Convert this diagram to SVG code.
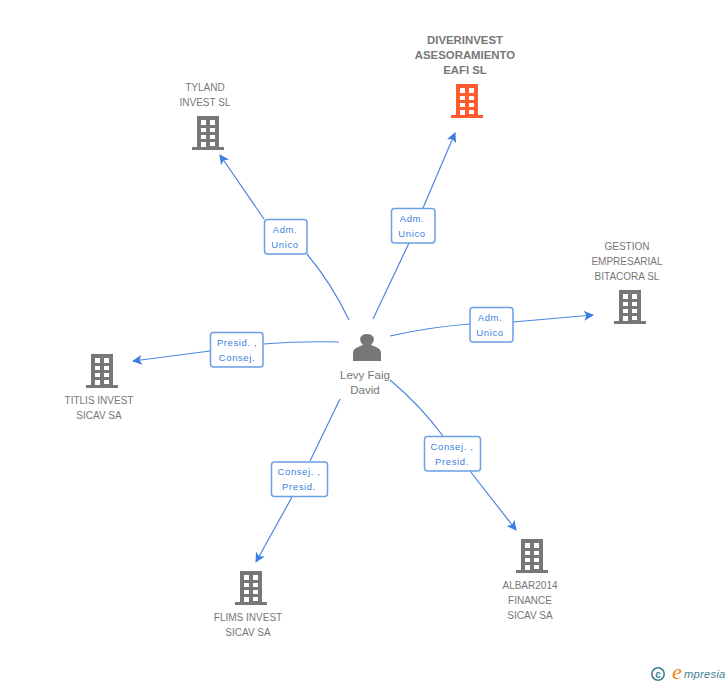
<svg xmlns="http://www.w3.org/2000/svg" width="728" height="685" viewBox="0 0 728 685">
<style>
text{font-family:"Liberation Sans",Arial,sans-serif}
.n{font-size:10px;fill:#777;text-anchor:middle}
.n.b{font-weight:bold;font-size:11.400px;fill:#777}
.c{fill:none;stroke:#4a86e0;stroke-width:1.2}
.box{fill:#fff;stroke:#6b9fe6;stroke-width:1.5}
.l{font-size:9.500px;fill:#3b7fe0;text-anchor:middle;letter-spacing:.6px}
</style>
<defs>
<marker id="a" markerWidth="11" markerHeight="10" refX="9" refY="5" orient="auto" markerUnits="userSpaceOnUse"><path d="M0 0L10 5L0 10L2.500 5Z" fill="#3b7fe0"/></marker>
<symbol id="bld" width="32" height="34" viewBox="0 0 32 34">
<path fill-rule="evenodd" d="M5 0H27V31H32V34H0V31H5ZM9 4V9H14V4ZM18 4V9H23V4ZM9 12V16H14V12ZM18 12V16H23V12ZM9 19V23H14V19ZM18 19V23H23V19ZM9 26V31H14V26ZM18 26V30H23V26Z"/>
</symbol>
</defs>
<g id="connectors">
<path class="c" d="M349 320Q332 284 307 254"/>
<path class="c" marker-end="url(#a)" d="M264 219L220 155"/>
<path class="c" d="M373 319L409 243"/>
<path class="c" marker-end="url(#a)" d="M423 208L455 133"/>
<path class="c" d="M390 336Q430 327 470 324"/>
<path class="c" marker-end="url(#a)" d="M513 322L593 315"/>
<path class="c" d="M339 342Q300 341 263 344"/>
<path class="c" marker-end="url(#a)" d="M210 351L133 361"/>
<path class="c" d="M340 399L310 461"/>
<path class="c" marker-end="url(#a)" d="M292 497L256 562"/>
<path class="c" d="M390 380Q420 405 443 436"/>
<path class="c" marker-end="url(#a)" d="M470 471L516 530"/>
</g>
<g id="labels">
<rect class="box" x="264.500" y="219.500" width="42.500" height="34.500" rx="3"/><text class="l" x="285" y="233">Adm.</text><text class="l" x="285" y="248">Unico</text>
<rect class="box" x="391.500" y="208.500" width="43.500" height="34.500" rx="3"/><text class="l" x="412" y="222">Adm.</text><text class="l" x="412" y="237">Unico</text>
<rect class="box" x="470" y="307.500" width="43" height="34.500" rx="3"/><text class="l" x="490" y="321">Adm.</text><text class="l" x="490" y="336">Unico</text>
<rect class="box" x="210.500" y="332.500" width="52.500" height="34.500" rx="3"/><text class="l" x="237" y="346">Presid. ,</text><text class="l" x="237" y="361">Consej.</text>
<rect class="box" x="424.500" y="436.500" width="56" height="34.500" rx="3"/><text class="l" x="452" y="450">Consej. ,</text><text class="l" x="452" y="465">Presid.</text>
<rect class="box" x="271.500" y="462" width="56" height="34.500" rx="3"/><text class="l" x="299" y="475">Consej. ,</text><text class="l" x="299" y="490">Presid.</text>
</g>
<g id="center">
<path fill="#777" d="M353 361V353Q353 349 358 347L363 345Q360 342 360 339Q361 334 367 334Q373 334 374 339Q374 342 371 345L376 347Q381 349 381 353V361Z"/>
<text class="n" x="365" y="379" style="font-size:11.500px">Levy Faig</text><text class="n" x="365" y="394" style="font-size:11.500px">David</text>
</g>
<g id="diverinvest">
<text class="n b" x="465" y="44">DIVERINVEST</text><text class="n b" x="465" y="59">ASESORAMIENTO</text><text class="n b" x="465" y="74">EAFI SL</text>
<use href="#bld" x="451" y="84" fill="#ff5a30"/>
</g>
<g id="tyland">
<text class="n" x="205" y="91">TYLAND</text><text class="n" x="205" y="106">INVEST SL</text>
<use href="#bld" x="192" y="116" fill="#777"/>
</g>
<g id="gestion">
<text class="n" x="627" y="250">GESTION</text><text class="n" x="627" y="265">EMPRESARIAL</text><text class="n" x="627" y="280">BITACORA SL</text>
<use href="#bld" x="614" y="290" fill="#777"/>
</g>
<g id="titlis">
<use href="#bld" x="86" y="354" fill="#777"/>
<text class="n" x="99" y="404">TITLIS INVEST</text><text class="n" x="99" y="419">SICAV SA</text>
</g>
<g id="flims">
<use href="#bld" x="235" y="571" fill="#777"/>
<text class="n" x="248" y="621">FLIMS INVEST</text><text class="n" x="248" y="636">SICAV SA</text>
</g>
<g id="albar">
<use href="#bld" x="516" y="539" fill="#777"/>
<text class="n" x="530" y="589">ALBAR2014</text><text class="n" x="530" y="604">FINANCE</text><text class="n" x="530" y="619">SICAV SA</text>
</g>
<g id="logo">
<circle cx="658" cy="674" r="6.200" fill="none" stroke="#3f7f93" stroke-width="1.600"/>
<text x="658" y="677.500" font-size="10" font-weight="bold" fill="#3f7f93" text-anchor="middle">c</text>
<text x="672" y="679" font-size="22" font-style="italic" fill="#f08020" style="font-family:'Liberation Serif',serif">e</text>
<text x="684" y="678" font-size="11.300" font-style="italic" fill="#3f7f93" letter-spacing=".2">mpresia</text>
</g>
</svg>
